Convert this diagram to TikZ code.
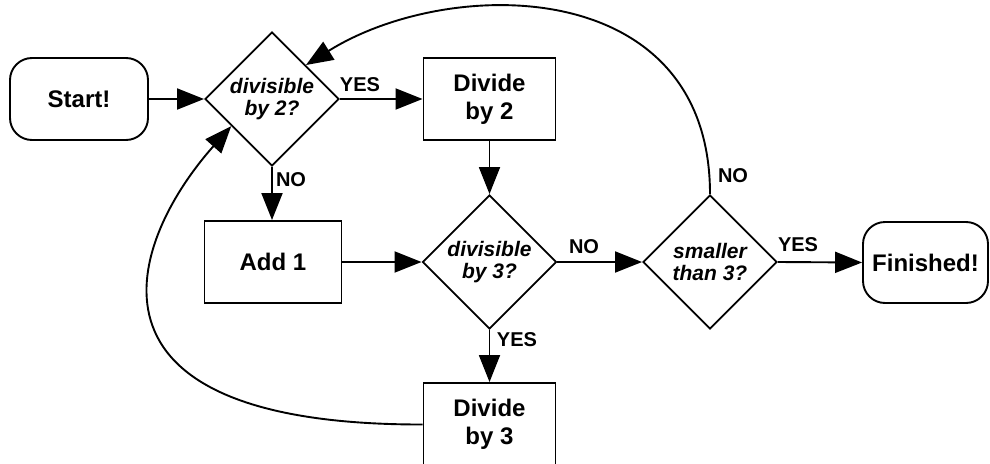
\documentclass[tikz,border=0pt]{standalone}
\usepackage{fontspec}
\setmainfont{Liberation Sans}
\usetikzlibrary{shapes.geometric,arrows.meta,calc}
\begin{document}
\begin{tikzpicture}[x=1pt,y=-1pt,
 base/.style={draw, line width=1.9pt, font=\bfseries\fontsize{24}{28}\selectfont, align=center, inner sep=0pt},
 term/.style={base, rounded corners=22pt, minimum width=138pt, minimum height=82pt},
 proc/.style={base, minimum width=132pt, minimum height=82pt},
 dec/.style={base, diamond, aspect=1, minimum width=134pt, minimum height=134pt, font=\bfseries\itshape\fontsize{21}{22}\selectfont},
 arr/.style={line width=1.9pt, -{Triangle[length=27pt,width=21pt]}},
 lab/.style={font=\bfseries\fontsize{20}{22}\selectfont, inner sep=0pt}]
\useasboundingbox (0,0) rectangle (990,463);
\node[term] (start) at (79,99) {Start!};
\node[dec] (d1) at (272,99) {divisible\\by 2?};
\node[proc] (div2) at (489.5,99) {Divide\\by 2};
\node[proc, minimum width=137pt] (add1) at (273,262) {Add 1};
\node[dec] (d2) at (489.5,262) {divisible\\by 3?};
\node[dec] (d3) at (710,262) {smaller\\than 3?};
\node[term, minimum width=125pt, minimum height=81pt] (fin) at (925.5,262.5) {Finished!};
\node[proc, minimum height=83pt] (div3) at (489.5,424.5) {Divide\\by 3};

\draw[arr] (start.east) -- (d1.west);
\draw[arr] (d1.east) -- (div2.west);
\draw[arr] (d1.south) -- (d1.south |- add1.north);
\draw[arr] (div2.south) -- (d2.north);
\draw[arr] (add1.east) -- (d2.west);
\draw[arr] (d2.east) -- (d3.west);
\draw[arr] (d3.east) -- (fin.west);
\draw[arr] (d2.south) -- (div3.north);
\draw[arr] (d3.north) .. controls (710,-25) and (450,-25) .. (d1.north east);
\draw[arr] (div3.west) .. controls (60,425) and (130,240) .. ($(d1.west)!0.4!(d1.south)$);

\node[lab] (l1) at (360,85) {YES};
\node[lab] (l2) at (291,180) {NO};
\node[lab] (l3) at (584,247) {NO};
\node[lab] (l4) at (517,340) {YES};
\node[lab] (l5) at (798,245) {YES};
\node[lab] (l6) at (733,176) {NO};
\end{tikzpicture}
\end{document}
